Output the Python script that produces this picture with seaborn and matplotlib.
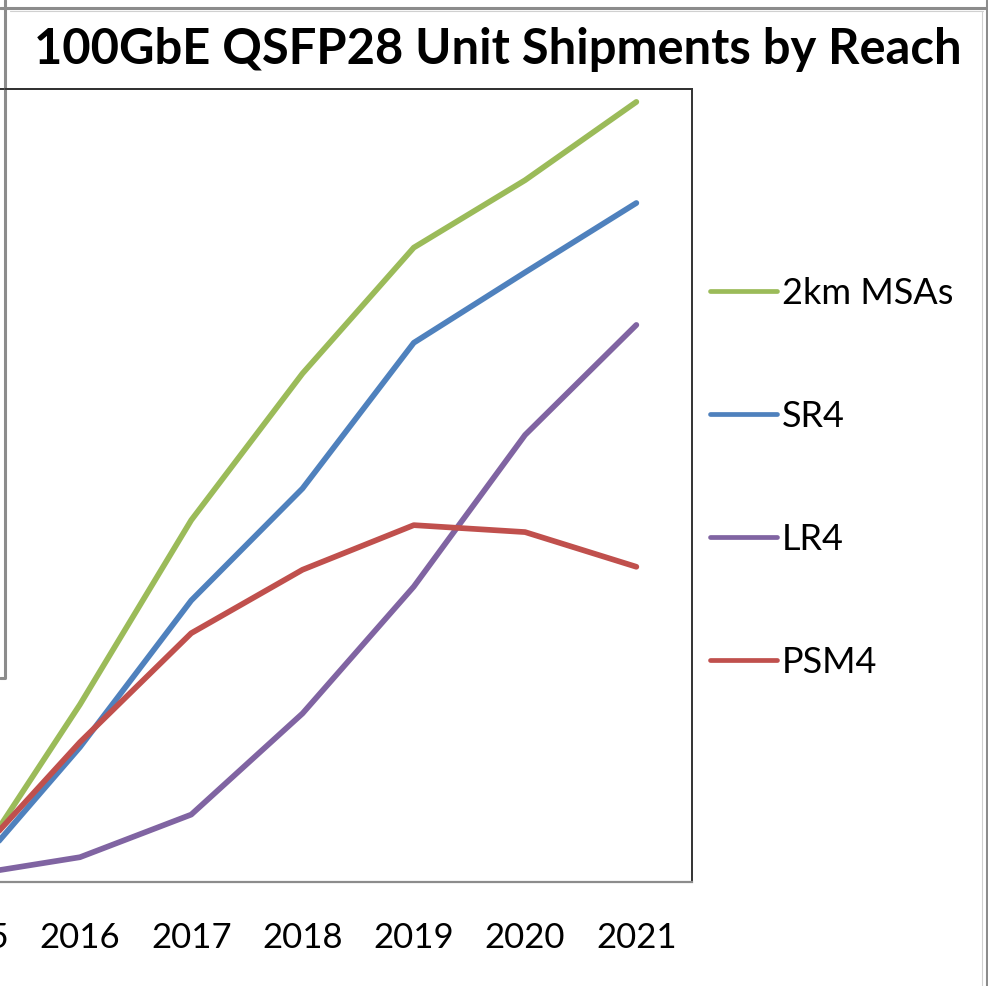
import matplotlib
matplotlib.use("Agg")
import matplotlib.pyplot as plt
from matplotlib.lines import Line2D
import seaborn as sns
import pandas as pd

years = [2015, 2016, 2017, 2018, 2019, 2020, 2021]
tick_labels = ["2015", "2016", "2017", "2018", "2019", "2020", "2021"]
series_names = ["2km MSAs", "SR4", "LR4", "PSM4"]
msa_2km = [0.08, 1.79, 3.65, 5.13, 6.40, 7.08, 7.87]
sr4 = [0.06, 1.36, 2.84, 3.97, 5.44, 6.15, 6.85]
lr4 = [0.07, 0.25, 0.68, 1.70, 2.98, 4.51, 5.62]
psm4 = [0.18, 1.41, 2.51, 3.15, 3.60, 3.53, 3.18]
title = "100GbE QSFP28 Unit Shipments by Reach"

colors = {"2km MSAs": "#9BBB59", "SR4": "#4F81BD", "LR4": "#8064A2", "PSM4": "#C0504D"}

rows = []
for name, vals in zip(series_names, [msa_2km, sr4, lr4, psm4]):
    for y, v in zip(years, vals):
        rows.append({"Year": y, "Units": v, "Reach": name})
df = pd.DataFrame(rows)

sns.set_theme(style="white")
plt.rcParams["font.family"] = ["Lato", "DejaVu Sans"]

W, H = 988, 986
fig = plt.figure(figsize=(W / 100, H / 100), dpi=100)
fig.patch.set_facecolor("white")

def fx(px):
    return px / W

def fy(py):
    return 1 - py / H

left_px, right_px, top_px, bot_px = -87, 692, 89, 882
ax = fig.add_axes([fx(left_px), fy(bot_px), fx(right_px) - fx(left_px), fy(top_px) - fy(bot_px)])

sns.lineplot(data=df, x="Year", y="Units", hue="Reach", hue_order=series_names,
             palette=colors, linewidth=4.1, ax=ax, legend=False, sort=False,
             estimator=None)
for ln in ax.get_lines():
    ln.set_solid_capstyle("round")
    ln.set_solid_joinstyle("round")

ax.set_xlim(2014.5, 2021.5)
ax.set_ylim(0, 8)
ax.set_xlabel("")
ax.set_ylabel("")
ax.set_yticks([])
ax.set_xticks(years)
ax.set_xticklabels(tick_labels, fontsize=25, color="black")
ax.tick_params(axis="x", which="major", length=0, pad=28.5)
ax.set_xticks([y + 0.5 for y in [2014] + years], minor=True)
ax.tick_params(axis="x", which="minor", length=9.5, width=1.3, color="#8c8c8c", direction="out")
ax.grid(False)
ax.set_facecolor("white")
for s in ["top", "right"]:
    ax.spines[s].set_color("#333333")
    ax.spines[s].set_linewidth(1.4)
ax.spines["bottom"].set_color("#8c8c8c")
ax.spines["bottom"].set_linewidth(1.6)
ax.spines["left"].set_visible(False)

# Legend
handles = [Line2D([0], [0], color=colors[n], lw=3.4, solid_capstyle="round") for n in series_names]
leg = ax.legend(handles, series_names, loc="upper left", bbox_to_anchor=(fx(710), fy(277)),
                bbox_transform=fig.transFigure, frameon=False, fontsize=26,
                handlelength=1.85, handletextpad=0.15, labelspacing=2.49,
                borderpad=0, borderaxespad=0)
for t in leg.get_texts():
    t.set_color("black")

# Title
tt = fig.text(fx(498), fy(50), title, ha="center", va="center", fontsize=34,
              fontweight="bold", color="black")

fig.canvas.draw()
bb = tt.get_window_extent()
tt.set_fontsize(34 * 927 / bb.width)

# Frame / window borders
fig.add_artist(Line2D([0, 1], [fy(8), fy(8)], transform=fig.transFigure, color="#8c8c8c", lw=2.2))
fig.add_artist(Line2D([0.01, fx(983)], [fy(11), fy(11)], transform=fig.transFigure, color="#d0d0d0", lw=0.8))
fig.add_artist(Line2D([fx(982), fx(982)], [fy(11), 0], transform=fig.transFigure, color="#d0d0d0", lw=0.8))
fig.add_artist(Line2D([fx(986.5), fx(986.5)], [1, 0], transform=fig.transFigure, color="#8c8c8c", lw=2.2))
fig.add_artist(Line2D([fx(4.5), fx(4.5), 0], [1, fy(678), fy(678)], transform=fig.transFigure, color="#8c8c8c", lw=2.2))
fig.add_artist(Line2D([fx(5), fx(692)], [fy(89), fy(89)], transform=fig.transFigure, color="#333333", lw=1.4))

fig.savefig("out.png", dpi=100, facecolor="white")
